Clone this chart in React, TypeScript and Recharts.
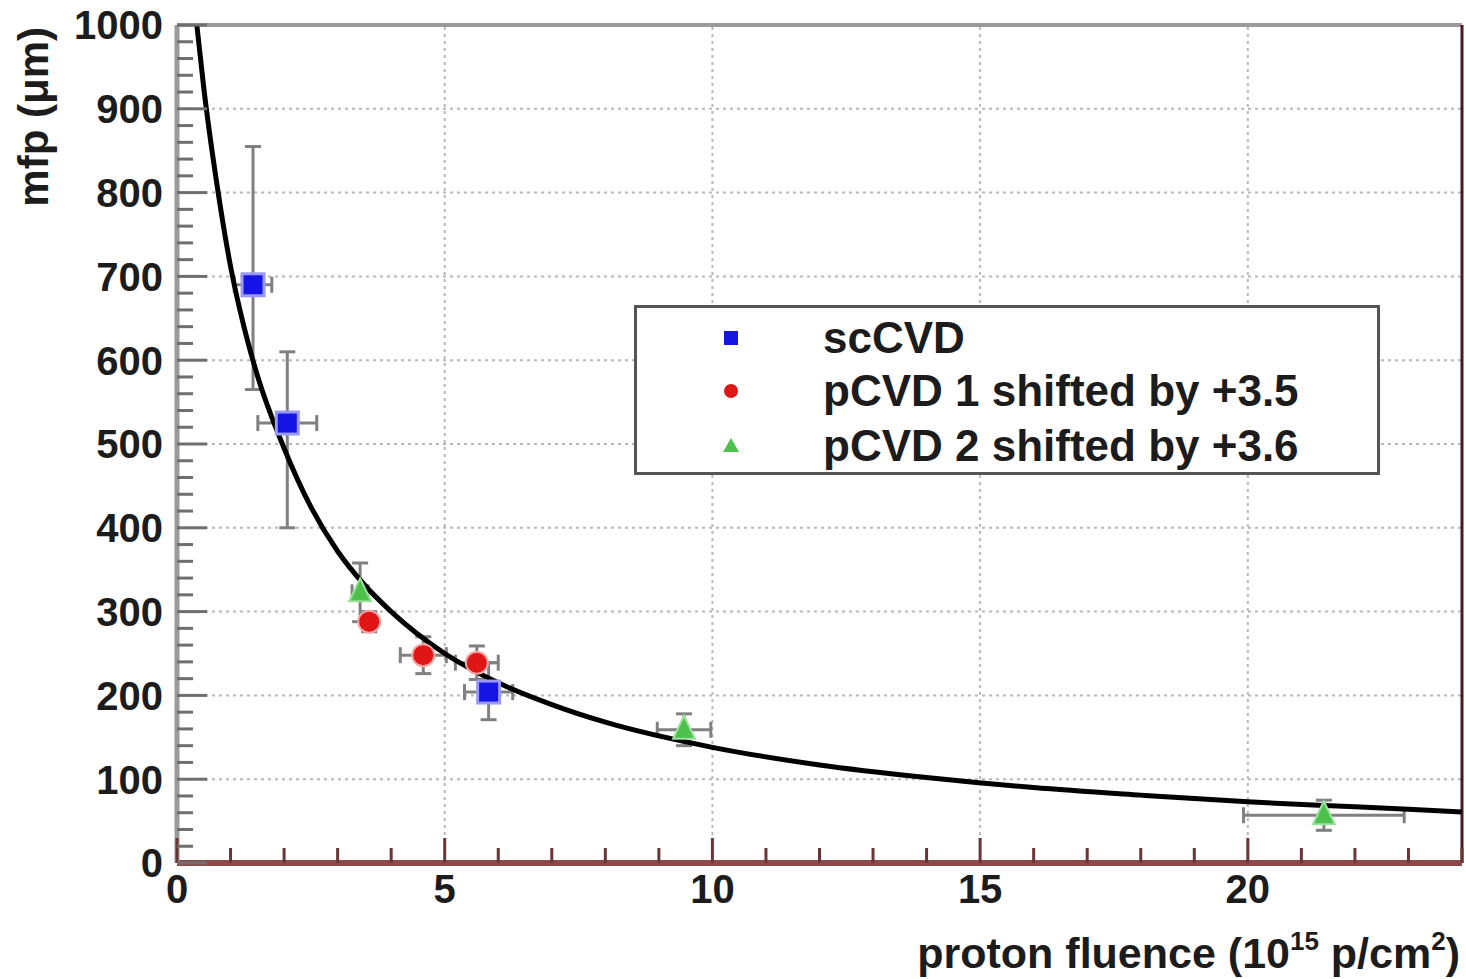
import React from 'react';
import {
  ComposedChart,
  ErrorBar,
  Legend,
  Line,
  ReferenceLine,
  Scatter,
  XAxis,
  YAxis,
} from 'recharts';

// scCVD (blue squares)
const scX = [1.42, 2.06, 5.82];
const scY = [690, 525, 204];
const scErrX = [0.35, 0.55, 0.45];
const scErrY = [[125, 165], [125, 85], [33, 35]];

// pCVD 1 shifted by +3.5 (red circles)
const p1X = [3.59, 4.6, 5.6];
const p1Y = [288, 248, 239];
const p1ErrX = [0.12, 0.43, 0.4];
const p1ErrY = [12, 22, 20];

// pCVD 2 shifted by +3.6 (green triangles)
const p2X = [3.42, 9.47, 21.42];
const p2Y = [323, 159, 57];
const p2ErrX = [0.15, 0.5, 1.5];
const p2ErrY = [35, 19, 18];

// fitted curve
const fitX = [0.37, 0.5, 0.75, 1, 1.25, 1.5, 2, 2.5, 3, 3.5, 4, 5, 6, 7, 8, 10, 12, 14, 16, 18, 20, 22, 24];
const fitY = [1000, 925, 808, 712, 640, 582, 495, 425, 372, 332, 300, 250, 215, 189, 168, 138, 117, 102, 90, 81, 73, 67, 61];

const xTicks = [0, 1, 2, 3, 4, 5, 6, 7, 8, 9, 10, 11, 12, 13, 14, 15, 16, 17, 18, 19, 20, 21, 22, 23, 24];
const yTicks = [
  0, 20, 40, 60, 80, 100, 120, 140, 160, 180, 200, 220, 240, 260, 280, 300, 320, 340, 360, 380, 400,
  420, 440, 460, 480, 500, 520, 540, 560, 580, 600, 620, 640, 660, 680, 700, 720, 740, 760, 780, 800,
  820, 840, 860, 880, 900, 920, 940, 960, 980, 1000,
];
const xGrid = [5, 10, 15, 20];
const yGrid = [100, 200, 300, 400, 500, 600, 700, 800, 900];

const seriesNames = ['scCVD', 'pCVD 1 shifted by +3.5', 'pCVD 2 shifted by +3.6'];

const scData = scX.map((x, i) => ({ x, y: scY[i], ex: scErrX[i], ey: scErrY[i] }));
const p1Data = p1X.map((x, i) => ({ x, y: p1Y[i], ex: p1ErrX[i], ey: p1ErrY[i] }));
const p2Data = p2X.map((x, i) => ({ x, y: p2Y[i], ex: p2ErrX[i], ey: p2ErrY[i] }));
const fitData = fitX.map((x, i) => ({ x, y: fitY[i] }));

const FONT = '"Liberation Sans", Arial, Helvetica, sans-serif';
const TEXT = '#1c1c1c';

const XTick = (props: any) => {
  const { x, y, payload } = props;
  const v = payload.value;
  const major = v % 5 === 0;
  return (
    <g>
      <line x1={x} y1={y} x2={x} y2={y - (major ? 25 : 15)} stroke='#6a3535' strokeWidth={3} />
      {major && (
        <text x={x} y={y + 40} textAnchor='middle' fontFamily={FONT} fontWeight='bold' fontSize={40} fill={TEXT}>
          {v}
        </text>
      )}
    </g>
  );
};

const YTick = (props: any) => {
  const { x, y, payload } = props;
  const v = payload.value;
  const major = v % 100 === 0;
  return (
    <g>
      <line x1={x} y1={y} x2={x + (major ? 30 : 16)} y2={y} stroke='#6e6e6e' strokeWidth={3} />
      {major && (
        <text x={x - 14} y={y} dy='0.36em' textAnchor='end' fontFamily={FONT} fontWeight='bold' fontSize={40} fill={TEXT}>
          {v}
        </text>
      )}
    </g>
  );
};

const Square = (props: any) => {
  const { cx, cy } = props;
  return <rect x={cx - 11} y={cy - 11} width={22} height={22} fill='#1414e4' stroke='#9a9af5' strokeWidth={3} />;
};

const Dot = (props: any) => {
  const { cx, cy } = props;
  return <circle cx={cx} cy={cy} r={11} fill='#e01616' stroke='#f3a6a6' strokeWidth={2} />;
};

const Triangle = (props: any) => {
  const { cx, cy } = props;
  return (
    <polygon
      points={`${cx},${cy - 14} ${cx - 11},${cy + 9} ${cx + 11},${cy + 9}`}
      fill='#4cc24c'
      stroke='#9be09b'
      strokeWidth={2}
    />
  );
};

const LegendBox = () => (
  <div
    style={{
      width: 746,
      height: 170,
      boxSizing: 'border-box',
      border: '3px solid #555',
      background: '#fff',
      position: 'relative',
      fontFamily: FONT,
      fontWeight: 'bold',
      fontSize: 44,
      color: TEXT,
    }}
  >
    {seriesNames.map((name, i) => (
      <div
        key={name}
        style={{ position: 'absolute', left: 0, top: [30, 83, 138][i] - 27, height: 54, display: 'flex', alignItems: 'center' }}
      >
        <svg width={180} height={54} style={{ display: 'block' }}>
          {i === 0 && <rect x={87} y={20} width={14} height={14} fill='#1414e4' />}
          {i === 1 && <circle cx={94} cy={27} r={7} fill='#e01616' />}
          {i === 2 && <polygon points='94,19 86,33 102,33' fill='#4cc24c' />}
        </svg>
        <span style={{ whiteSpace: 'nowrap', marginLeft: 6, lineHeight: '54px' }}>{name}</span>
      </div>
    ))}
  </div>
);

const App = () => {
  return (
    <div style={{ position: 'absolute', left: 0, top: 0, width: 1466, height: 979, background: '#fff' }}>
      <ComposedChart width={1466} height={979} margin={{ top: 25, right: 4, bottom: 0, left: 0 }}>
        <XAxis
          dataKey='x'
          type='number'
          domain={[0, 24]}
          ticks={xTicks}
          interval={0}
          tickSize={0}
          tickMargin={0}
          tick={<XTick />}
          axisLine={{ stroke: '#8b4a4a', strokeWidth: 6 }}
          tickLine={false}
          height={116}
          allowDataOverflow
        />
        <YAxis
          dataKey='y'
          type='number'
          domain={[0, 1000]}
          ticks={yTicks}
          interval={0}
          tickSize={0}
          tickMargin={0}
          tick={<YTick />}
          axisLine={{ stroke: '#9a9a9a', strokeWidth: 5 }}
          tickLine={false}
          width={177}
          allowDataOverflow
        />
        {xGrid.map((v) => (
          <ReferenceLine key={`gx${v}`} x={v} stroke='#b8b8b8' strokeWidth={2} strokeDasharray='3 4' />
        ))}
        {yGrid.map((v) => (
          <ReferenceLine key={`gy${v}`} y={v} stroke='#b8b8b8' strokeWidth={2} strokeDasharray='3 4' />
        ))}
        <ReferenceLine y={1000} stroke='#9a9a9a' strokeWidth={4} />
        <ReferenceLine x={24} stroke='#4a1a20' strokeWidth={3} />
        <Scatter name={seriesNames[0]} data={scData} dataKey='y' shape={<Square />} isAnimationActive={false}>
          <ErrorBar dataKey='ex' direction='x' width={8} strokeWidth={3} stroke='#808080' />
          <ErrorBar dataKey='ey' direction='y' width={8} strokeWidth={3} stroke='#808080' />
        </Scatter>
        <Scatter name={seriesNames[1]} data={p1Data} dataKey='y' shape={<Dot />} isAnimationActive={false}>
          <ErrorBar dataKey='ex' direction='x' width={8} strokeWidth={3} stroke='#808080' />
          <ErrorBar dataKey='ey' direction='y' width={8} strokeWidth={3} stroke='#808080' />
        </Scatter>
        <Scatter name={seriesNames[2]} data={p2Data} dataKey='y' shape={<Triangle />} isAnimationActive={false}>
          <ErrorBar dataKey='ex' direction='x' width={8} strokeWidth={3} stroke='#808080' />
          <ErrorBar dataKey='ey' direction='y' width={8} strokeWidth={3} stroke='#808080' />
        </Scatter>
        <Line
          data={fitData}
          dataKey='y'
          type='monotone'
          stroke='#000'
          strokeWidth={5}
          dot={false}
          activeDot={false}
          legendType='none'
          isAnimationActive={false}
        />
        <Legend
          verticalAlign='middle'
          align='center'
          layout='horizontal'
          content={<LegendBox />}
          wrapperStyle={{ left: 634, top: 305, width: 746, height: 170 }}
        />
        <text
          x={48}
          y={27}
          transform='rotate(-90, 48, 27)'
          textAnchor='end'
          fontFamily={FONT}
          fontWeight='bold'
          fontSize={42}
          fill={TEXT}
        >
          mfp (μm)
        </text>
        <text x={1460} y={968} textAnchor='end' fontFamily={FONT} fontWeight='bold' fontSize={43} fill={TEXT}>
          proton fluence (10
          <tspan fontSize={26} dy={-18}>15</tspan>
          <tspan dy={18}> p/cm</tspan>
          <tspan fontSize={26} dy={-18}>2</tspan>
          <tspan dy={18}>)</tspan>
        </text>
      </ComposedChart>
    </div>
  );
};

export default App;
